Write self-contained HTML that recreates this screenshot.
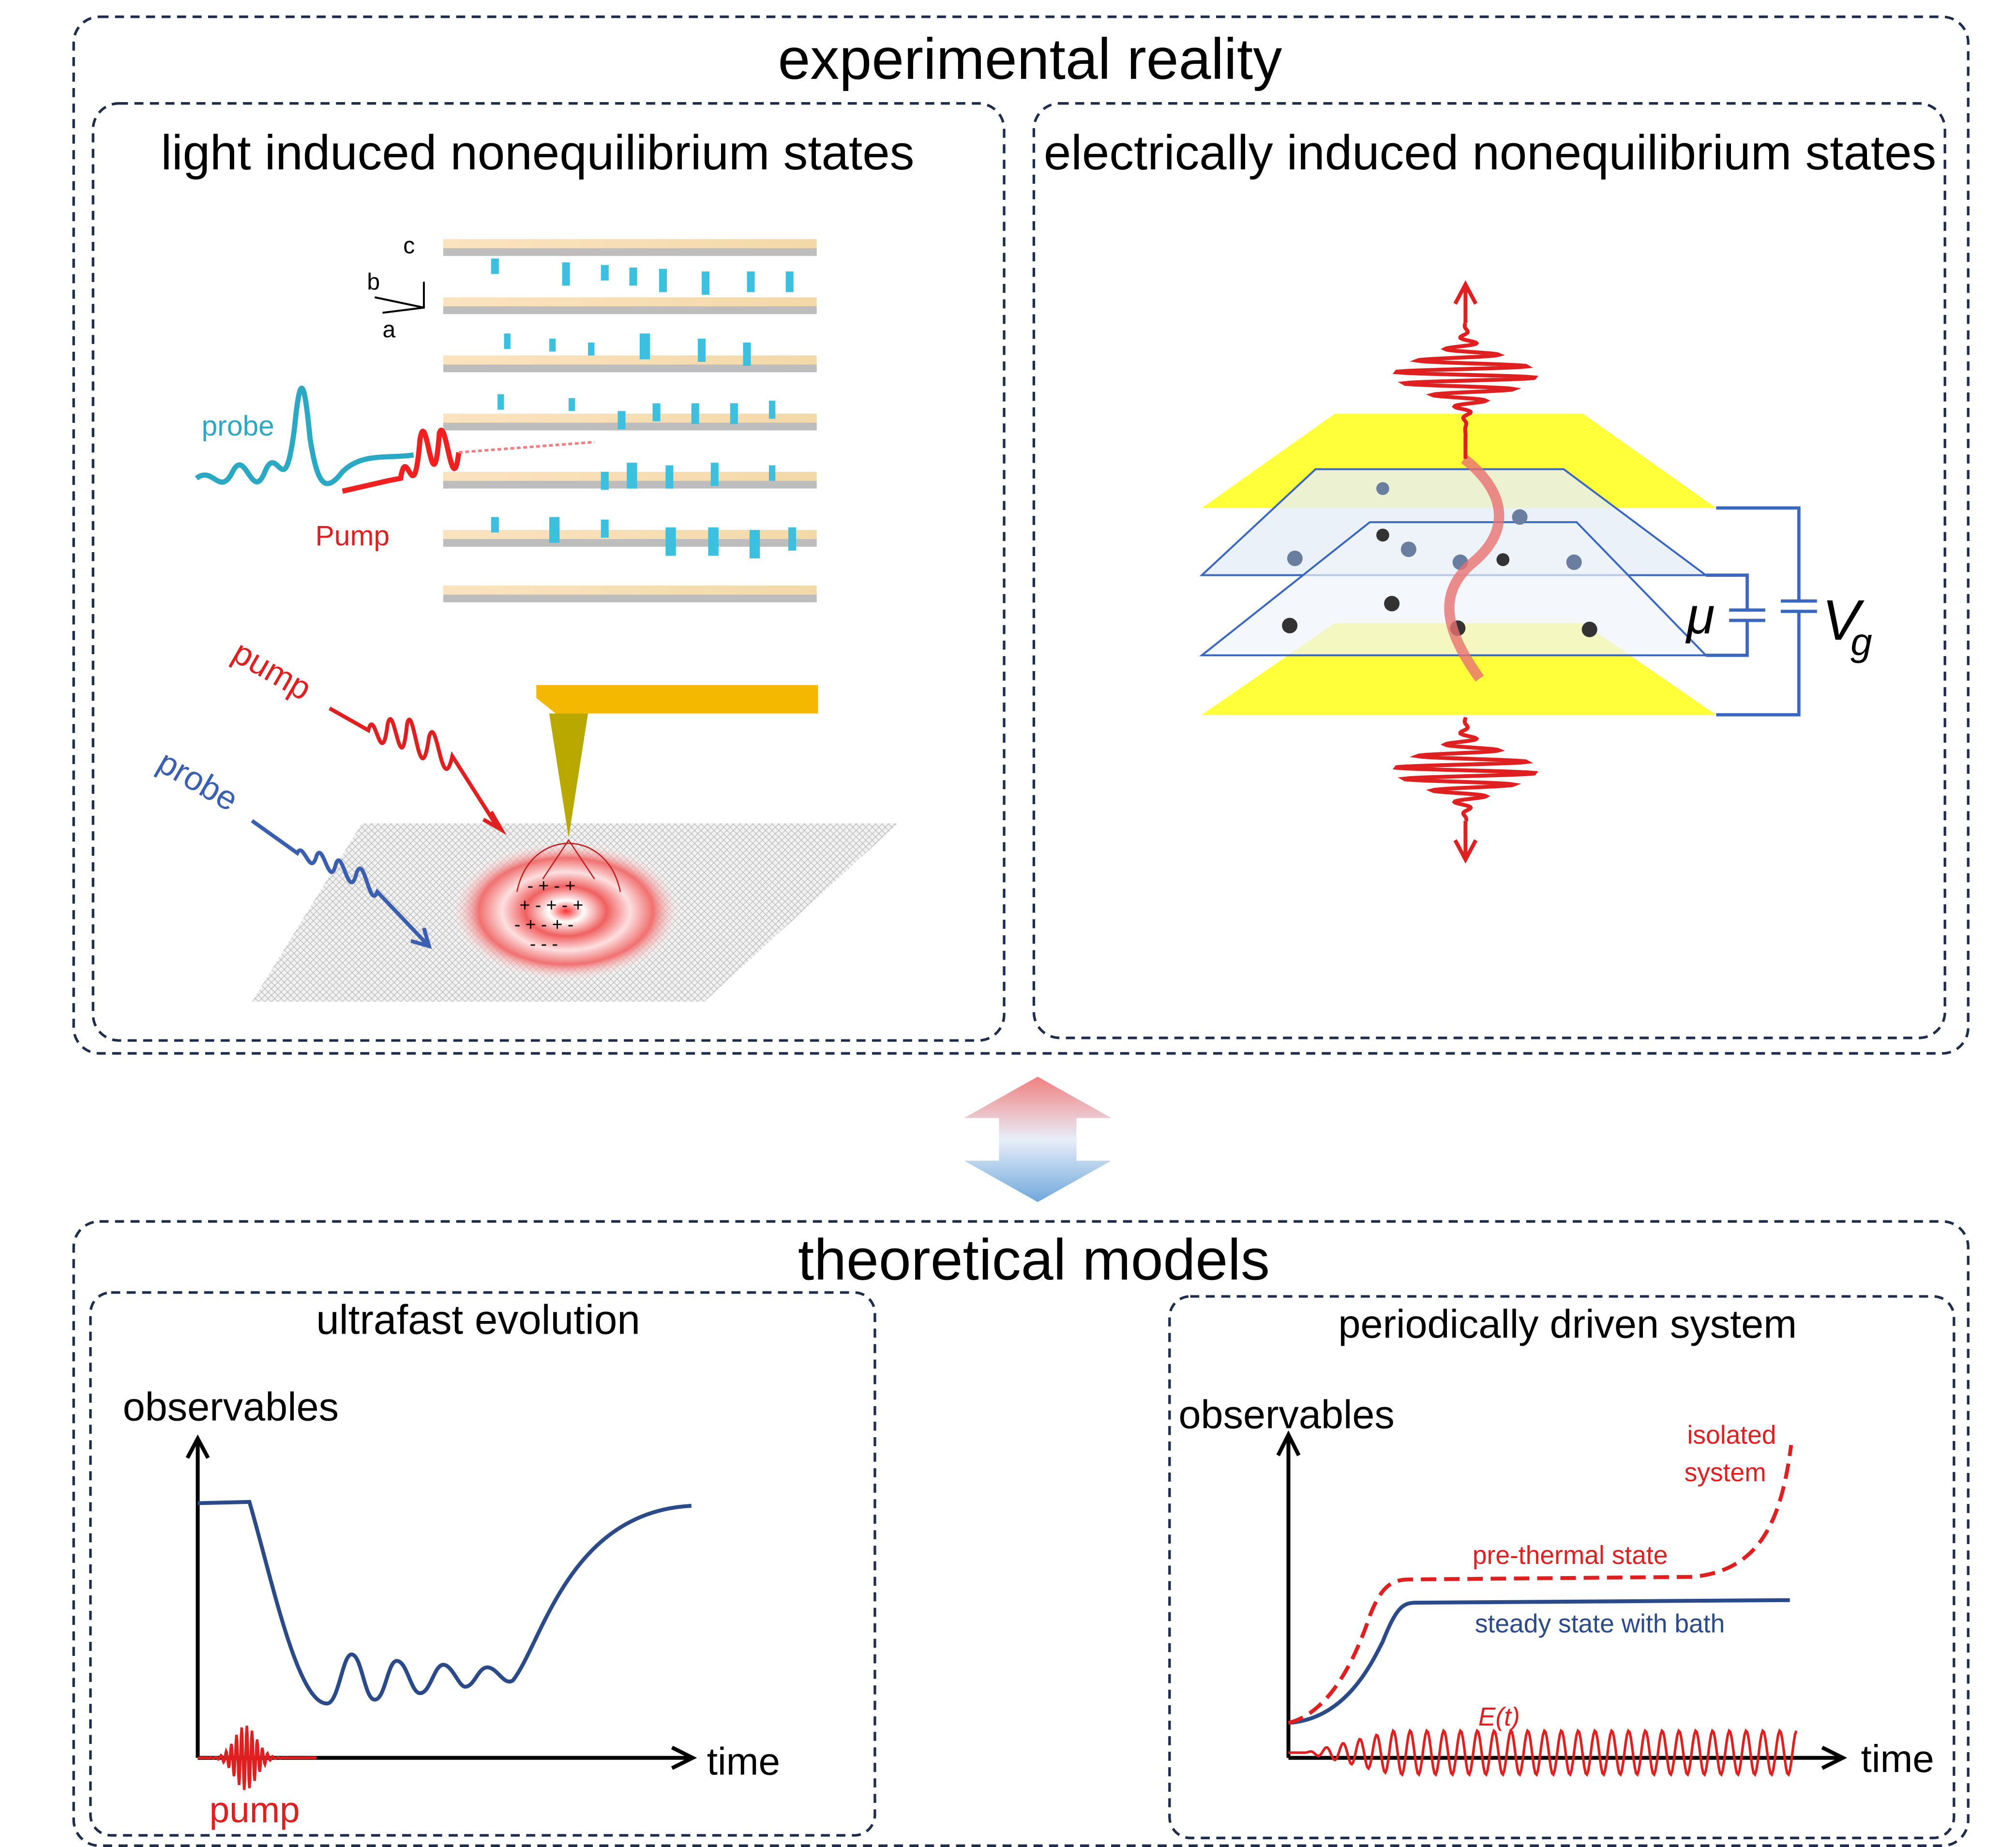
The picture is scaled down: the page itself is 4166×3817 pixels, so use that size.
<!DOCTYPE html>
<html><head><meta charset="utf-8"><style>
html,body{margin:0;padding:0;background:#fff;}
svg{display:block;}
text{font-family:"Liberation Sans",sans-serif;}
</style></head><body>
<svg width="4166" height="3817" viewBox="0 0 1560 1429" preserveAspectRatio="none" xmlns="http://www.w3.org/2000/svg">
<defs>
<linearGradient id="dbl" x1="0" y1="0" x2="0" y2="1">
<stop offset="0" stop-color="#f08080"/><stop offset="0.5" stop-color="#e8eef8"/><stop offset="1" stop-color="#6fa8dc"/></linearGradient>
<linearGradient id="plate" x1="0" y1="0" x2="1" y2="0"><stop offset="0" stop-color="#fbe3c0"/><stop offset="1" stop-color="#f3d9a8"/></linearGradient>
<radialGradient id="ring"><stop offset="0" stop-color="#ff3030"/><stop offset="0.15" stop-color="#fff"/><stop offset="0.35" stop-color="#f06060"/><stop offset="0.55" stop-color="#fde0e0"/><stop offset="0.75" stop-color="#f07070"/><stop offset="1" stop-color="#fff" stop-opacity="0"/></radialGradient>
<pattern id="grid" width="5" height="5" patternUnits="userSpaceOnUse"><rect width="5" height="5" fill="#f2f2f2"/><path d="M0 0L5 5M5 0L0 5" stroke="#bbb" stroke-width="0.5"/></pattern>
</defs>
<g fill="none" stroke="#1f2d4d" stroke-width="2" stroke-dasharray="7,5">
<rect x="57" y="13" width="1466" height="802" rx="20"/>
<rect x="72" y="80" width="705" height="725" rx="20"/>
<rect x="800" y="80" width="705" height="723" rx="20"/>
<rect x="57" y="945" width="1466" height="483" rx="20"/>
<rect x="70" y="1000" width="607" height="420" rx="16"/>
<rect x="905" y="1003" width="607" height="419" rx="16"/>
</g>
<g fill="#000" text-anchor="middle">
<text x="797" y="61" font-size="45">experimental reality</text>
<text x="416" y="131" font-size="38">light induced nonequilibrium states</text>
<text x="1153" y="131" font-size="38">electrically induced nonequilibrium states</text>
<text x="800" y="990" font-size="45">theoretical models</text>
<text x="370" y="1032" font-size="32">ultrafast evolution</text>
<text x="1213" y="1035" font-size="31">periodically driven system</text>
</g>
<path d="M803 833 L860 865 L833 865 L833 898 L860 898 L803 930 L746 898 L773 898 L773 865 L746 865 Z" fill="url(#dbl)"/>

<g>
<g id="pl">
<polygon points="343,185 632,185 632,192 343,192" fill="url(#plate)"/>
<polygon points="343,192 632,192 632,198 343,198" fill="#bdbdbd"/>
</g>
<use href="#pl" y="45"/><use href="#pl" y="90"/><use href="#pl" y="135"/><use href="#pl" y="180"/><use href="#pl" y="225"/><use href="#pl" y="268"/>
<g fill="#3cc0e0">
<rect x="380" y="200" width="6" height="12"/><rect x="435" y="203" width="6" height="18"/><rect x="465" y="205" width="6" height="12"/><rect x="487" y="207" width="6" height="14"/><rect x="510" y="208" width="6" height="18"/><rect x="543" y="210" width="6" height="18"/><rect x="578" y="210" width="6" height="16"/><rect x="608" y="210" width="6" height="16"/>
<rect x="390" y="258" width="5" height="12"/><rect x="425" y="262" width="5" height="10"/><rect x="455" y="265" width="5" height="10"/><rect x="495" y="258" width="8" height="20"/><rect x="540" y="262" width="6" height="18"/><rect x="575" y="265" width="6" height="18"/>
<rect x="385" y="305" width="5" height="12"/><rect x="440" y="308" width="5" height="10"/><rect x="478" y="318" width="6" height="14"/><rect x="505" y="312" width="6" height="14"/><rect x="535" y="312" width="6" height="16"/><rect x="565" y="312" width="6" height="16"/><rect x="595" y="310" width="5" height="14"/>
<rect x="465" y="365" width="6" height="14"/><rect x="485" y="358" width="8" height="20"/><rect x="515" y="360" width="6" height="18"/><rect x="550" y="358" width="6" height="18"/><rect x="595" y="360" width="5" height="12"/>
<rect x="380" y="400" width="6" height="12"/><rect x="425" y="400" width="8" height="20"/><rect x="465" y="402" width="6" height="14"/><rect x="515" y="408" width="8" height="22"/><rect x="548" y="408" width="8" height="22"/><rect x="580" y="410" width="8" height="22"/><rect x="610" y="408" width="6" height="18"/>
</g>
</g>
<g stroke="#000" stroke-width="1.5" fill="none"><path d="M328 218 L328 238 L296 242 M328 238 L290 230"/></g>
<text x="312" y="196" font-size="18">c</text><text x="284" y="224" font-size="18">b</text><text x="296" y="261" font-size="18">a</text>
<path d="M152 370 C165 360 170 385 180 365 C190 345 195 390 205 365 C215 340 220 395 228 330 C233 280 236 300 240 340 C245 370 250 385 265 365 C280 350 300 355 320 352" stroke="#2aa8c4" stroke-width="4" fill="none"/>
<path d="M265 380 L300 372 L310 370 C315 340 320 400 325 340 C330 310 335 400 340 335 C345 320 350 390 355 350" stroke="#f02020" stroke-width="4" fill="none"/>
<path d="M355 350 L460 342" stroke="#f08080" stroke-width="2" stroke-dasharray="3,2" fill="none"/>
<text x="156" y="337" font-size="22" fill="#2aa8c4">probe</text>
<text x="244" y="422" font-size="22" fill="#e02020">Pump</text>
<polygon points="280,637 695,637 545,775 195,775" fill="url(#grid)"/>
<ellipse cx="438" cy="705" rx="90" ry="55" fill="url(#ring)"/>
<polygon points="415,530 633,530 633,552 430,552 415,540" fill="#f5b800"/>
<polygon points="425,552 455,552 440,648" fill="#b8a800"/>
<g font-size="14" fill="#000" font-family="Liberation Mono"><text x="408" y="690">- + - +</text><text x="402" y="705">+ - + - +</text><text x="398" y="720">- + - + -</text><text x="410" y="735">- - -</text></g>
<path d="M400 690 C410 640 470 640 480 690 M420 680 L440 650 L460 680" stroke="#c02020" fill="none"/>
<text x="178" y="510" font-size="26" fill="#e02020" font-family="Liberation Serif" transform="rotate(30 178 510)">pump</text>
<text x="120" y="595" font-size="26" fill="#3a5fb0" font-family="Liberation Serif" transform="rotate(30 120 595)">probe</text>
<path d="M255 548 L285 565 C290 545 295 600 300 560 C305 540 310 610 315 560 C320 540 325 620 332 570 C338 550 342 620 350 585 L385 640" stroke="#e02020" stroke-width="3" fill="none"/>
<path d="M374 634 L388 642 L380 628" stroke="#e02020" stroke-width="3" fill="none"/>
<path d="M195 635 L230 660 C235 650 240 680 245 662 C250 650 255 690 260 668 C265 655 270 700 276 675 C282 660 286 705 292 690 L330 730" stroke="#3a5fb0" stroke-width="3" fill="none"/>
<path d="M318 728 L332 732 L328 718" stroke="#3a5fb0" stroke-width="3" fill="none"/>

<polygon points="1033,320 1225,320 1328,393 930,393" fill="#ffff3a"/>
<polygon points="1033,482 1225,482 1328,553 930,553" fill="#ffff3a"/>
<polygon points="1018,363 1210,363 1320,445 930,445" fill="#e6eef8" fill-opacity="0.8" stroke="#3a68c0" stroke-width="1.5"/>
<polygon points="1060,404 1220,404 1320,507 930,507" fill="#f0f4fa" fill-opacity="0.7" stroke="#3a68c0" stroke-width="1.5"/>
<g fill="#6a7fa0"><circle cx="1002" cy="432" r="6"/><circle cx="1090" cy="425" r="6"/><circle cx="1130" cy="435" r="6"/><circle cx="1176" cy="400" r="6"/><circle cx="1218" cy="435" r="6"/><circle cx="1070" cy="378" r="5"/></g>
<g fill="#333"><circle cx="998" cy="484" r="6"/><circle cx="1077" cy="467" r="6"/><circle cx="1128" cy="486" r="6"/><circle cx="1230" cy="487" r="6"/><circle cx="1163" cy="433" r="5"/><circle cx="1070" cy="414" r="5"/></g>
<path d="M1133 355 C1165 380 1170 410 1140 435 C1110 460 1120 490 1145 525" stroke="#e87070" stroke-width="8" fill="none" opacity="0.8"/>
<g stroke="#3a68c0" stroke-width="2.5" fill="none">
<path d="M1328 393 L1392 393 L1392 465 M1378 465 L1406 465 M1378 473 L1406 473 M1392 473 L1392 553 L1328 553"/>
<path d="M1320 445 L1352 445 L1352 472 M1338 472 L1366 472 M1338 480 L1366 480 M1352 480 L1352 507 L1320 507"/>
</g>
<text x="1305" y="490" font-size="40" font-style="italic" font-family="Liberation Serif">μ</text>
<text x="1410" y="495" font-size="44" font-style="italic" font-family="Liberation Serif">V</text>
<text x="1432" y="507" font-size="30" font-style="italic" font-family="Liberation Serif">g</text>
<g stroke="#e02020" stroke-width="3" fill="none">
<path id="wp1" d=""/><path id="wp2" d=""/>
<path d="M1134 250 L1134 222 M1126 235 L1134 220 L1142 235"/>
<path d="M1134 635 L1134 665 M1126 650 L1134 665 L1142 650"/>
</g>

<g stroke="#000" stroke-width="3" fill="none">
<path d="M153 1360 L153 1115 M145 1128 L153 1113 L161 1128"/>
<path d="M153 1360 L535 1360 M520 1352 L536 1360 L520 1368"/>
</g>
<text x="95" y="1099" font-size="31">observables</text>
<text x="547" y="1373" font-size="30">time</text>
<text x="162" y="1410" font-size="28" fill="#e02020" font-family="Liberation Serif">pump</text>
<path d="M153 1163 L193 1162 C210 1220 230 1318 253 1318 C262 1318 265 1280 272 1280 C280 1280 282 1315 290 1315 C298 1315 300 1285 307 1285 C315 1285 318 1310 325 1310 C333 1310 336 1288 343 1288 C350 1288 355 1305 360 1305 C367 1305 370 1290 377 1290 C385 1290 390 1305 397 1300 C420 1270 440 1170 535 1165" stroke="#2a4a8a" stroke-width="3" fill="none"/>
<path id="lp" d="" stroke="#e02020" stroke-width="2" fill="none"/>
<g stroke="#000" stroke-width="3" fill="none">
<path d="M997 1360 L997 1112 M989 1126 L997 1110 L1005 1126"/>
<path d="M997 1360 L1425 1360 M1410 1352 L1426 1360 L1410 1368"/>
</g>
<text x="912" y="1105" font-size="31">observables</text>
<text x="1440" y="1371" font-size="30">time</text>
<path d="M997 1333 C1040 1330 1060 1290 1070 1270 C1080 1245 1085 1240 1095 1240 L1385 1238" stroke="#2a4a8a" stroke-width="3" fill="none"/>
<path d="M997 1333 C1030 1325 1050 1280 1060 1250 C1068 1230 1075 1222 1090 1222 L1310 1220 C1360 1215 1378 1180 1386 1118" stroke="#e02020" stroke-width="3" stroke-dasharray="12,6" fill="none"/>
<path id="osc" d="" stroke="#e02020" stroke-width="2" fill="none"/>
<text x="1340" y="1117" font-size="20" fill="#e02020" text-anchor="middle">isolated</text>
<text x="1335" y="1146" font-size="20" fill="#e02020" text-anchor="middle">system</text>
<text x="1215" y="1210" font-size="20" fill="#e02020" text-anchor="middle">pre-thermal state</text>
<text x="1238" y="1263" font-size="20" fill="#2a4a8a" text-anchor="middle">steady state with bath</text>
<text x="1160" y="1335" font-size="20" fill="#e02020" font-style="italic" font-family="Liberation Serif" text-anchor="middle">E(t)</text>
<script>
(function(){
var d="M997 1356";for(var x=997;x<=1390;x+=1){var a=Math.min(17,Math.max(0,(x-1010)*0.25));var y=1356-a*Math.sin((x-997)/13*2*Math.PI);d+=" L"+x+" "+y.toFixed(1);}document.getElementById("osc").setAttribute("d",d);
function vp(y0,y1,yc,sig,amp,per){var s="";for(var y=y0;y<=y1;y+=0.5){var a=amp*Math.exp(-Math.pow((y-yc)/sig,2));var x=1134+a*Math.sin((y-yc)/per*2*Math.PI);s+=(s?" L":"M")+x.toFixed(1)+" "+y;}return s;}
document.getElementById("wp1").setAttribute("d",vp(250,355,290,18,55,9));
document.getElementById("wp2").setAttribute("d",vp(555,635,596,18,55,9));
var p="M153 1360";for(var x=153;x<=245;x+=0.5){var a=25*Math.exp(-Math.pow((x-190)/12,2));p+=" L"+x+" "+(1360-a*Math.sin((x-190)/4*2*Math.PI)).toFixed(1);}document.getElementById("lp").setAttribute("d",p);
})();
</script>
</svg>
</body></html>
